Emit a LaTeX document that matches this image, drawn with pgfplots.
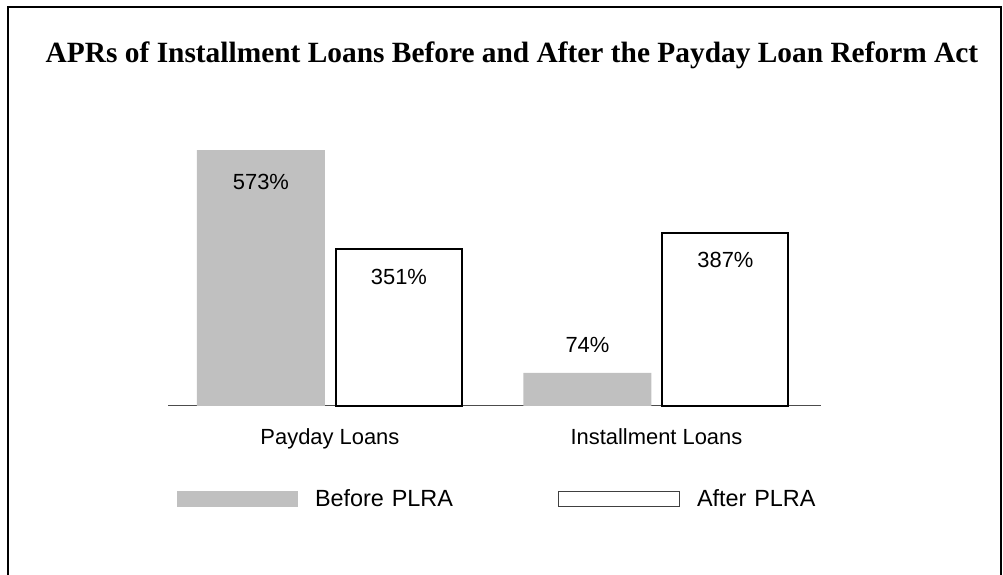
\documentclass[border=0pt]{standalone}
\usepackage{fontspec}
\setmainfont{Liberation Sans}
\newfontfamily\titlefont{Liberation Serif}
\usepackage{pgfplots}
\pgfplotsset{compat=1.18}
\usepackage{pgfplotstable}
\definecolor{barg}{HTML}{C0C0C0}

\pgfplotstableread{
x y shift
0 573 -32
1 74 27.5
}\before
\pgfplotstableread{
x y shift
0 351 -28
1 387 -27
}\after

\begin{document}
\begin{tikzpicture}[x=1bp,y=1bp]
\path[use as bounding box] (0,0) rectangle (1003,575);
\draw[line width=2bp] (8,-5) -- (8,568) -- (1001,568) -- (1001,-5);
\node[font=\titlefont\bfseries\fontsize{29.5}{34}\selectfont, anchor=base, inner sep=0pt] at (512,512) {APRs of Installment Loans Before and After the Payday Loan Reform Act};
\begin{axis}[
  at={(168bp,169bp)}, anchor=south west,
  scale only axis, width=653bp, height=268bp,
  xmin=-0.496, xmax=1.504, ymin=0, ymax=600,
  axis x line=bottom, axis y line=none,
  axis line style={-, draw=black!70, line width=1bp},
  xtick={0,1}, xticklabels={Payday Loans,Installment Loans},
  major tick length=0pt,
  xticklabel style={font=\fontsize{22}{26}\selectfont, anchor=base, yshift=-39bp, inner sep=0pt},
  ytick=\empty,
  ybar, bar width=128bp,
  clip=false,
  nodes near coords={\pgfmathprintnumber{\pgfplotspointmeta}\%},
  visualization depends on={\thisrow{shift} \as \lblshift},
  every node near coord/.append style={font=\fontsize{22}{26}\selectfont, anchor=center, yshift=\lblshift*1bp},
  /pgf/number format/assume math mode=true,
  legend columns=2,
  legend style={draw=none, fill=none, inner sep=0pt, outer sep=0pt,
    at={(0.01378,-0.347)}, anchor=west, column sep=17bp,
    cells={anchor=base west},
    nodes={inner sep=0pt, text width=226bp, align=left, font=\fontsize{23.5}{27}\selectfont}},
]
\addplot[fill=barg, draw=none, bar shift=-69bp,
  legend image code/.code={\fill[barg] (0bp,0bp) rectangle (121bp,16bp);}]
  table[x=x,y=y] {\before};
\addlegendentry{Before PLRA}
\addplot[fill=white, draw=black, line width=2bp, bar width=126bp, bar shift=69bp,
  legend image code/.code={\draw[black!75, line width=1bp, fill=white] (0.5bp,0.5bp) rectangle (121.5bp,15.5bp);}]
  table[x=x,y=y] {\after};
\addlegendentry{After PLRA}
\end{axis}
\end{tikzpicture}
\end{document}
